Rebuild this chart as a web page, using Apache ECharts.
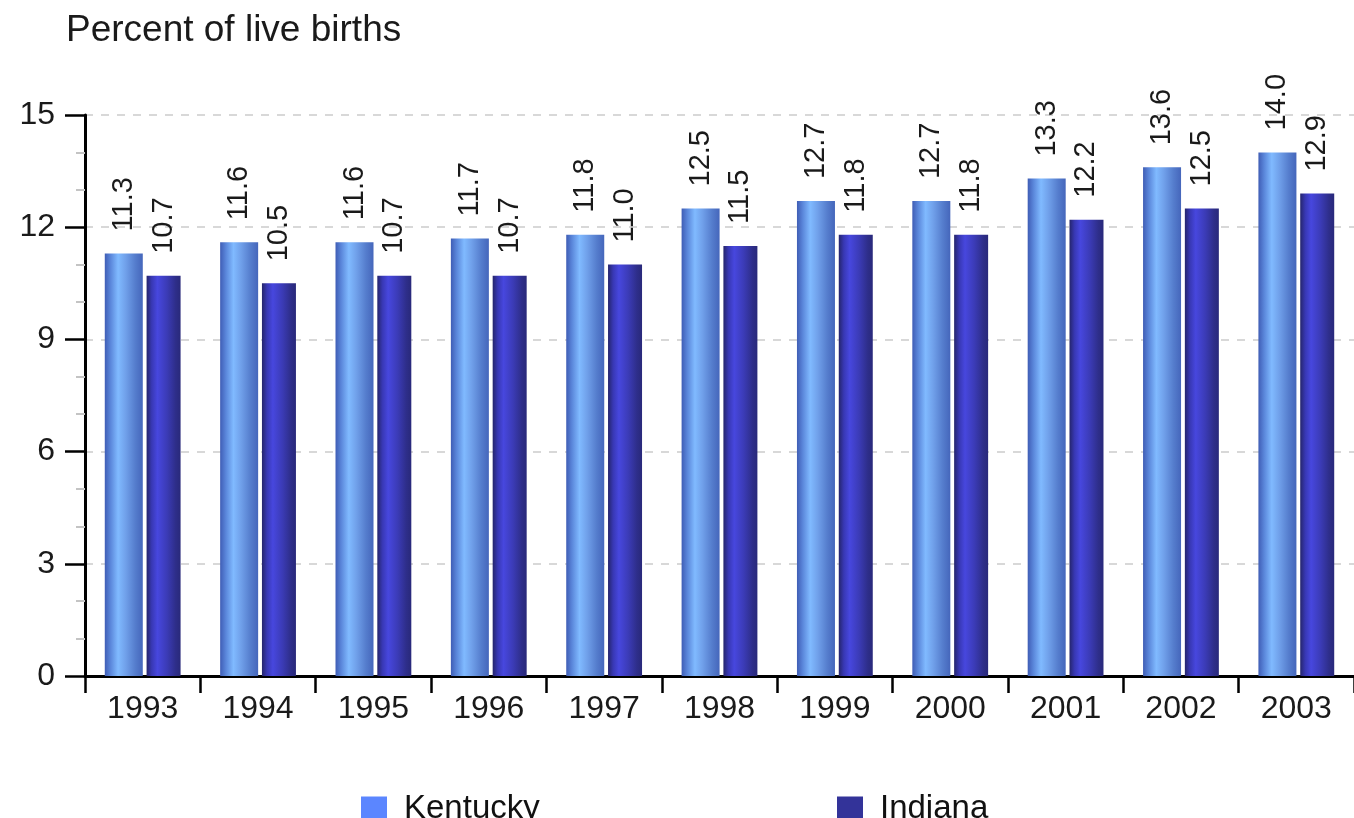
<!DOCTYPE html>
<html>
<head>
<meta charset="utf-8">
<title>Percent of live births</title>
<script src="https://cdn.jsdelivr.net/npm/echarts@6/dist/echarts.min.js"></script>
<style>
  html, body { margin: 0; padding: 0; background: #fff; }
  #main { width: 1354px; height: 818px; }
</style>
</head>
<body>
<div id="main"></div>
<script>
var years = ["1993", "1994", "1995", "1996", "1997", "1998", "1999", "2000", "2001", "2002", "2003"];
var kentucky = [11.3, 11.6, 11.6, 11.7, 11.8, 12.5, 12.7, 12.7, 13.3, 13.6, 14.0];
var indiana = [10.7, 10.5, 10.7, 10.7, 11.0, 11.5, 11.8, 11.8, 12.2, 12.5, 12.9];
var yTicks = [0, 3, 6, 9, 12, 15];

var font = "'Liberation Sans', Arial, sans-serif";

// horizontal shading on the bars, like the original
function barShade(stops) {
  return new echarts.graphic.LinearGradient(0, 0, 1, 0, stops.map(function (s) {
    return { offset: s[0], color: s[1] };
  }));
}

var myChart = echarts.init(document.getElementById("main"));

var labelStyle = {
  show: true,
  position: "top",
  rotate: 90,
  align: "left",
  verticalAlign: "middle",
  distance: 22,
  fontFamily: font,
  fontSize: 29,
  color: "#1a1a1a",
  formatter: function (p) { return p.value.toFixed(1); }
};

var option = {
  animation: false,
  backgroundColor: "#fff",
  title: {
    text: "Percent of live births",
    left: 61,
    top: 7,
    textStyle: { fontFamily: font, fontSize: 37, fontWeight: "normal", color: "#1a1a1a" }
  },
  legend: [
    {
      data: [{ name: "Kentucky", itemStyle: { color: "#5b86ff" } }],
      left: 356,
      top: 787,
      itemWidth: 26,
      itemHeight: 24,
      icon: "rect",
      textStyle: { fontFamily: font, fontSize: 33, color: "#111", padding: [0, 0, 0, 12] }
    },
    {
      data: [{ name: "Indiana", itemStyle: { color: "#333399" } }],
      left: 832,
      top: 787,
      itemWidth: 26,
      itemHeight: 24,
      icon: "rect",
      textStyle: { fontFamily: font, fontSize: 33, color: "#111", padding: [0, 0, 0, 12] }
    }
  ],
  grid: {
    left: 85,
    right: -6,
    top: 115,
    bottom: 142
  },
  xAxis: {
    type: "category",
    data: years,
    axisLine: { lineStyle: { color: "#000", width: 3 } },
    axisTick: { show: true, alignWithLabel: false, length: 17, lineStyle: { color: "#000", width: 2.5 } },
    axisLabel: { margin: 17, fontFamily: font, fontSize: 32, color: "#1a1a1a" }
  },
  yAxis: {
    type: "value",
    min: yTicks[0],
    max: yTicks[yTicks.length - 1],
    interval: 3,
    axisLine: { show: true, lineStyle: { color: "#000", width: 3 } },
    axisTick: { show: true, length: 20, lineStyle: { color: "#000", width: 2.5 } },
    minorTick: { show: true, splitNumber: 3, length: 9, lineStyle: { color: "#c4c4c4", width: 2 } },
    splitLine: { show: true, lineStyle: { color: "#d8d8d8", width: 2, type: [8, 8] } },
    axisLabel: { margin: 30, fontFamily: font, fontSize: 32, color: "#1a1a1a" }
  },
  series: [
    {
      name: "Kentucky",
      type: "bar",
      data: kentucky,
      barWidth: 38,
      barGap: "10%",
      itemStyle: {
        color: barShade([[0, "#3f5db5"], [0.15, "#5a86da"], [0.35, "#80baff"], [0.55, "#70a0ea"], [0.8, "#557dcd"], [1, "#4566bb"]])
      },
      label: labelStyle
    },
    {
      name: "Indiana",
      type: "bar",
      data: indiana,
      barWidth: 34,
      barGap: "10%",
      itemStyle: {
        color: barShade([[0, "#25256c"], [0.15, "#3838b4"], [0.32, "#4747de"], [0.6, "#3b3bb6"], [0.85, "#2e2e8a"], [1, "#29297a"]])
      },
      label: labelStyle
    }
  ]
};

myChart.setOption(option);
</script>
</body>
</html>
